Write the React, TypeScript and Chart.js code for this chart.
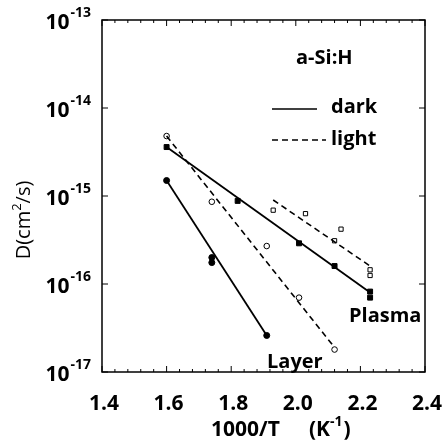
import React, { useEffect, useRef } from "react";
import { Chart, registerables } from "chart.js";
Chart.register(...registerables);

// Plasma-deposited film
const plasmaDarkX = [1.6, 1.82, 2.01, 2.12, 2.23, 2.23];
const plasmaDarkY = [3.6e-15, 8.8e-16, 2.9e-16, 1.6e-16, 8.2e-17, 7.0e-17];
const plasmaDarkFitX = [1.6, 2.23];
const plasmaDarkFitY = [3.6e-15, 8.0e-17];

const plasmaLightX = [1.93, 2.03, 2.14, 2.12, 2.23, 2.23];
const plasmaLightY = [6.9e-16, 6.3e-16, 4.2e-16, 3.1e-16, 1.45e-16, 1.25e-16];
const plasmaLightFitX = [1.93, 2.23];
const plasmaLightFitY = [9.0e-16, 1.6e-16];

// Layer
const layerDarkX = [1.6, 1.74, 1.74, 1.91];
const layerDarkY = [1.5e-15, 2.0e-16, 1.75e-16, 2.6e-17];
const layerDarkFitX = [1.6, 1.91];
const layerDarkFitY = [1.5e-15, 2.6e-17];

const layerLightX = [1.6, 1.74, 1.91, 2.01, 2.12];
const layerLightY = [4.8e-15, 8.6e-16, 2.7e-16, 7.0e-17, 1.8e-17];
const layerLightFitX = [1.6, 2.12];
const layerLightFitY = [4.8e-15, 1.9e-17];

const xTickValues = [1.4, 1.6, 1.8, 2.0, 2.2, 2.4];
const xTickLabels = ["1.4", "1.6", "1.8", "2.0", "2.2", "2.4"];
const yTickExponents = [-13, -14, -15, -16, -17];

const FONT = '"Open Sans", "DejaVu Sans", sans-serif';

const pts = (xs: number[], ys: number[]) => xs.map((x, i) => ({ x, y: ys[i] }));

const decor = {
  id: "decor",
  afterDraw(chart: any) {
    const { ctx, chartArea: a } = chart;
    const xs = chart.scales.x;
    const ys = chart.scales.y;
    ctx.save();
    ctx.strokeStyle = "#000";
    ctx.fillStyle = "#000";
    ctx.lineWidth = 1.5;
    ctx.strokeRect(a.left, a.top, a.right - a.left, a.bottom - a.top);
    const seg = (x1: number, y1: number, x2: number, y2: number) => {
      ctx.beginPath();
      ctx.moveTo(x1, y1);
      ctx.lineTo(x2, y2);
      ctx.stroke();
    };
    ctx.lineWidth = 1;
    for (let i = 0; i <= 25; i++) {
      const px = xs.getPixelForValue(1.4 + i * 0.04);
      const len = i % 5 === 0 ? 6 : 3;
      seg(px, a.bottom, px, a.bottom - len);
      seg(px, a.top, px, a.top + len);
    }
    yTickExponents.forEach((e) => {
      const py = ys.getPixelForValue(Math.pow(10, e));
      seg(a.left, py, a.left + 6, py);
      seg(a.right, py, a.right - 6, py);
    });

    // x tick labels
    ctx.font = `bold 21px ${FONT}`;
    ctx.textAlign = "center";
    ctx.textBaseline = "middle";
    xTickValues.forEach((v, i) => {
      ctx.fillText(xTickLabels[i], xs.getPixelForValue(v) + 2, a.bottom + 32);
    });

    // y tick labels 10^e
    yTickExponents.forEach((e) => {
      const py = ys.getPixelForValue(Math.pow(10, e));
      const sup = String(e);
      ctx.font = `bold 14px ${FONT}`;
      const sw = ctx.measureText(sup).width;
      const right = a.left - 11;
      ctx.textAlign = "right";
      ctx.textBaseline = "middle";
      ctx.fillText(sup, right, py - 7);
      ctx.font = `bold 21px ${FONT}`;
      ctx.fillText("10", right - sw - 1, py + 3);
    });

    // x title
    ctx.textBaseline = "middle";
    ctx.textAlign = "left";
    ctx.font = `bold 21px ${FONT}`;
    ctx.fillText("1000/T", 211, 430);
    ctx.fillText("(K", 309, 430);
    const kw = ctx.measureText("(K").width;
    ctx.font = `bold 14px ${FONT}`;
    ctx.fillText("-1", 309 + kw, 422);
    const sw1 = ctx.measureText("-1").width;
    ctx.font = `bold 21px ${FONT}`;
    ctx.fillText(")", 309 + kw + sw1 + 1, 430);

    // y title
    ctx.save();
    ctx.translate(24, 220);
    ctx.rotate(-Math.PI / 2);
    ctx.font = `20px ${FONT}`;
    const t1 = "D(cm";
    const t2 = "2";
    const t3 = "/s)";
    const w1 = ctx.measureText(t1).width;
    ctx.font = `13px ${FONT}`;
    const w2 = ctx.measureText(t2).width;
    ctx.font = `20px ${FONT}`;
    const w3 = ctx.measureText(t3).width;
    let sx = -(w1 + w2 + w3) / 2;
    ctx.textAlign = "left";
    ctx.fillText(t1, sx, 0);
    sx += w1;
    ctx.font = `13px ${FONT}`;
    ctx.fillText(t2, sx, -7);
    sx += w2;
    ctx.font = `20px ${FONT}`;
    ctx.fillText(t3, sx, 0);
    ctx.restore();

    // legend
    ctx.font = `bold 20px ${FONT}`;
    ctx.textAlign = "left";
    ctx.fillText("a-Si:H", 296, 58);
    ctx.lineWidth = 1.5;
    seg(272, 109, 317, 109);
    ctx.setLineDash([6, 4]);
    seg(272, 140, 326, 140);
    ctx.setLineDash([]);
    ctx.fillText("dark", 331, 107);
    ctx.fillText("light", 331, 139);

    // annotations
    ctx.fillText("Plasma", 349, 316);
    ctx.fillText("Layer", 267, 362);
    ctx.restore();
  },
};

export default function App() {
  const ref = useRef<HTMLCanvasElement | null>(null);
  useEffect(() => {
    if (!ref.current) return;
    const solid = (xs: number[], ys: number[]) => ({
      type: "line" as const,
      data: pts(xs, ys),
      borderColor: "#000",
      borderWidth: 1.8,
      pointRadius: 0,
      showLine: true,
      fill: false,
    });
    const dashed = (xs: number[], ys: number[]) => ({
      ...solid(xs, ys),
      borderWidth: 1.6,
      borderDash: [6, 4],
    });
    const marks = (xs: number[], ys: number[], style: string, filled: boolean, r: number) => ({
      type: "scatter" as const,
      data: pts(xs, ys),
      pointStyle: style,
      pointRadius: r,
      pointBackgroundColor: filled ? "#000" : "#fff",
      pointBorderColor: "#000",
      pointBorderWidth: 1,
      showLine: false,
    });
    const chart = new Chart(ref.current, {
      type: "scatter",
      data: {
        datasets: [
          solid(plasmaDarkFitX, plasmaDarkFitY),
          dashed(plasmaLightFitX, plasmaLightFitY),
          solid(layerDarkFitX, layerDarkFitY),
          dashed(layerLightFitX, layerLightFitY),
          marks(plasmaDarkX, plasmaDarkY, "rect", true, 3.5),
          marks(plasmaLightX, plasmaLightY, "rect", false, 3),
          marks(layerDarkX, layerDarkY, "circle", true, 3),
          marks(layerLightX, layerLightY, "circle", false, 2.8),
        ] as any,
      },
      options: {
        responsive: false,
        animation: false,
        devicePixelRatio: 1,
        layout: { padding: { left: 102, top: 20, right: 18, bottom: 72 } },
        plugins: { legend: { display: false }, tooltip: { enabled: false } },
        scales: {
          x: { type: "linear", min: 1.4, max: 2.4, display: false },
          y: { type: "logarithmic", min: 1e-17, max: 1e-13, display: false },
        },
      },
      plugins: [decor],
    });
    return () => chart.destroy();
  }, []);
  return (
    <div style={{ position: "fixed", left: 0, top: 0, width: 443, height: 444, background: "#fff" }}>
      <canvas ref={ref} width={443} height={444} style={{ width: 443, height: 444 }} />
    </div>
  );
}
